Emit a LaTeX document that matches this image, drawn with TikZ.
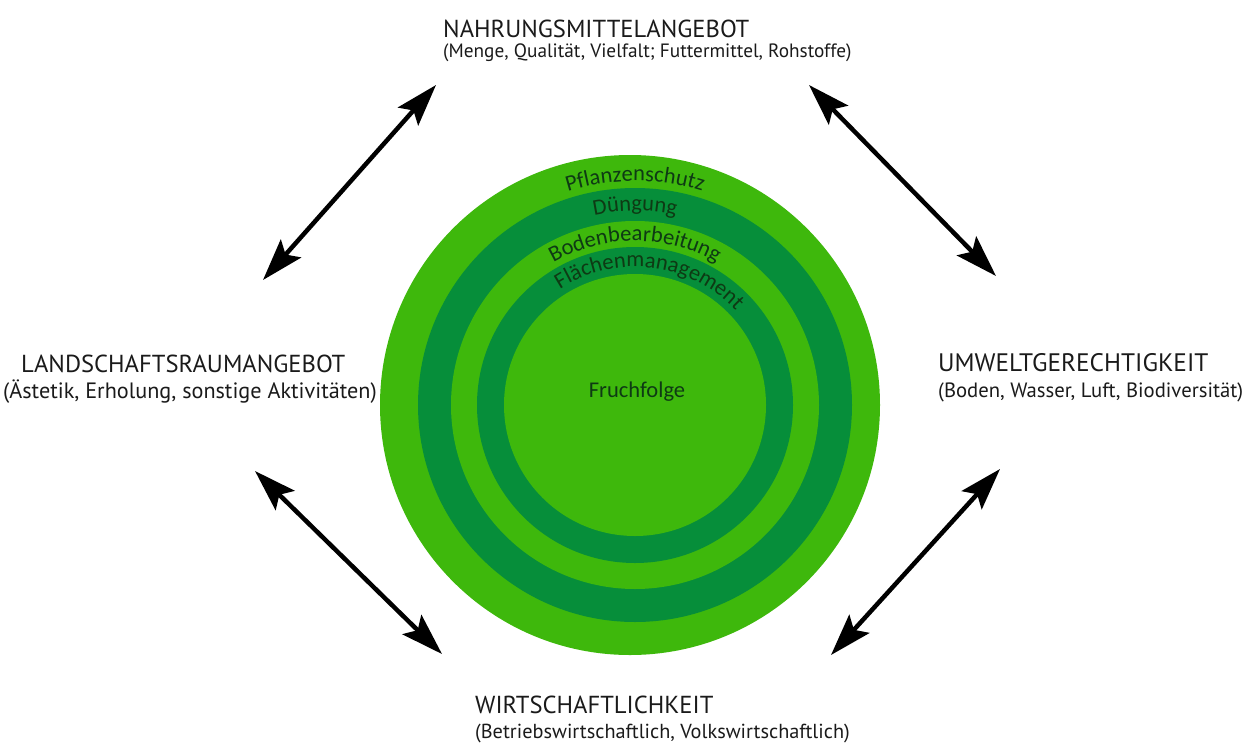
\documentclass[tikz,border=0pt]{standalone}
\usepackage{fontspec}
\setmainfont{PT Sans}
\newfontfamily\ringfont{Carlito}
\usetikzlibrary{arrows.meta,decorations.text}
\definecolor{ringlight}{RGB}{62,184,12}
\definecolor{ringdark}{RGB}{6,142,58}
\definecolor{ringtext}{RGB}{14,58,20}
\definecolor{labeltext}{RGB}{26,26,26}
\newcommand{\ringsize}{\ringfont\fontsize{22.5}{26}\selectfont}

\begin{document}
\begin{tikzpicture}[x=1pt,y=-1pt,
  title/.style={anchor=base west, inner sep=0pt, font=\fontsize{#1}{30}\selectfont, text=labeltext},
  title/.default=24.6,
  subtitle/.style={anchor=base west, inner sep=0pt, font=\fontsize{#1}{24}\selectfont, text=labeltext},
  subtitle/.default=20,
  link/.style={line width=4.5pt, {Stealth[length=42pt,width=27pt,inset=8pt]}-{Stealth[length=42pt,width=27pt,inset=8pt]}},
  ringlabel/.style={decorate, decoration={text along path, text align=center, text color=ringtext}}
]
\useasboundingbox (0,0) rectangle (1254,745);

% concentric bands
\coordinate (c) at (635,405);
\fill[ringlight] (630,405) circle[radius=250pt];
\fill[ringdark] (c) circle[radius=217pt];
\fill[ringlight] (c) circle[radius=184pt];
\fill[ringdark] (c) circle[radius=158pt];
\fill[ringlight] (c) circle[radius=131pt];

% curved band labels
\path[ringlabel, decoration={text={|\ringsize|Pflanzenschutz}}]
  ([shift={(150:224pt)}]c) arc[start angle=150, end angle=30, radius=224pt];
\path[ringlabel, decoration={text={|\ringsize|Düngung}}]
  ([shift={(150:194pt)}]c) arc[start angle=150, end angle=30, radius=194pt];
\path[ringlabel, decoration={text={|\ringsize|Bodenbearbeitung}}]
  ([shift={(150:164pt)}]c) arc[start angle=150, end angle=30, radius=164pt];
\path[ringlabel, decoration={text={|\ringsize|Flächenmanagement}}]
  ([shift={(133:138pt)}]c) arc[start angle=133, end angle=33, radius=138pt];

\node[inner sep=0pt, font=\ringsize, text=ringtext] (core) at (637,392) {Fruchfolge};

% outer labels
\node[title] (food) at (443,37) {NAHRUNGSMITTELANGEBOT};
\node[subtitle=19.3] (foodsub) at (443,57) {(Menge, Qualität, Vielfalt; Futtermittel, Rohstoffe)};
\node[title] (land) at (21,372) {LANDSCHAFTSRAUMANGEBOT};
\node[subtitle=22.2] (landsub) at (3,398) {(Ästetik, Erholung, sonstige Aktivitäten)};
\node[title=25.3] (env) at (938,371) {UMWELTGERECHTIGKEIT};
\node[subtitle=20.7] (envsub) at (938,397) {(Boden, Wasser, Luft, Biodiversität)};
\node[title] (econ) at (475,713) {WIRTSCHAFTLICHKEIT};
\node[subtitle=20.3] (econsub) at (475,738) {(Betriebswirtschaftlich, Volkswirtschaftlich)};

% double-headed links
\coordinate (tlA) at (263,280);
\coordinate (tlB) at (436,85);
\coordinate (trA) at (809,85);
\coordinate (trB) at (996,276);
\coordinate (blA) at (255,471);
\coordinate (blB) at (442,654);
\coordinate (brA) at (1000,469);
\coordinate (brB) at (831,655);
\draw[link] (tlA) -- (tlB);
\draw[link] (trA) -- (trB);
\draw[link] (blA) -- (blB);
\draw[link] (brA) -- (brB);
\end{tikzpicture}
\end{document}
